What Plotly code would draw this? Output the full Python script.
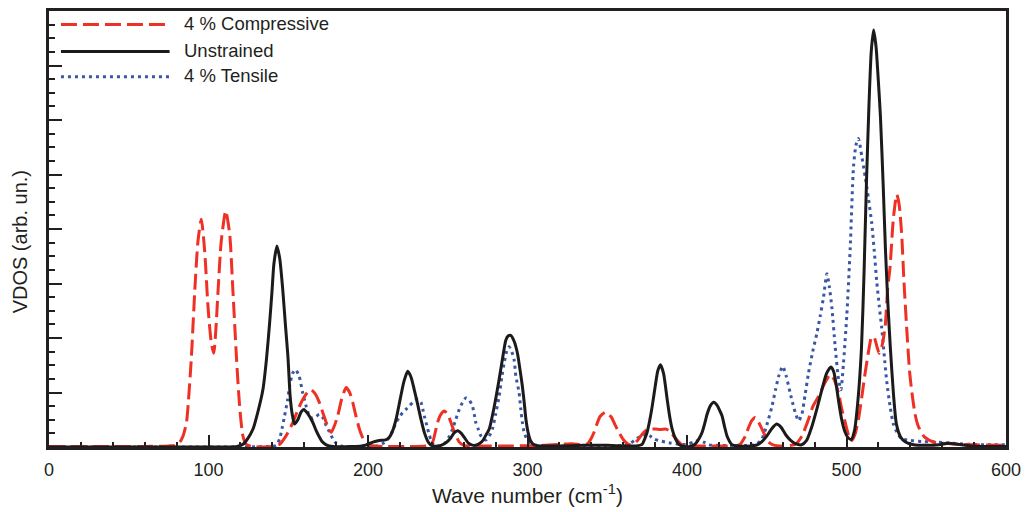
import plotly.graph_objects as go

# ---------------- data ----------------
unstrained_x = [0, 40, 80, 110, 118, 121.6, 124.5, 127.9, 131, 134.1, 136.3, 138.3, 139.8, 141, 142.9, 144.7, 146.6, 148.2, 149.8, 151.2,
                152.5, 153.9, 156, 158, 159.8, 162, 165.4, 167.5, 169.6, 171.5, 173.8, 178, 190, 196, 199, 203, 207, 211, 213.4, 215.5,
                217.6, 220, 222.5, 224.9, 227, 229, 231, 233.2, 235.5, 238, 240.4, 244, 246.5, 249, 252, 254, 256.2, 258.5, 260.5, 263,
                266, 269, 271.5, 274, 276, 279, 282.2, 284.5, 286.4, 288, 289.5, 291.5, 293.7, 295.3, 296.8, 298, 299, 300.5, 302, 304,
                308, 320, 335, 350, 362, 368, 371.9, 373.5, 375, 376.7, 378.2, 380, 381.7, 383.4, 385.3, 387.6, 389.2, 390.7, 392.8, 394.9,
                398, 402, 405, 407.5, 409.5, 411, 412.6, 414.5, 416.8, 419, 420.5, 422, 423.5, 425.1, 426.7, 428.2, 432, 440, 444, 447,
                450, 453, 456.2, 459, 462, 465, 468, 471.8, 475, 478, 480.5, 482.5, 485, 487.5, 490.3, 492, 493.5, 495, 497, 499,
                501, 503, 505, 507, 509.4, 511, 512.5, 514, 515.5, 517, 518.5, 520, 521.3, 523, 524.4, 526, 527.5, 529.5, 531.3, 534,
                537, 542, 550, 558, 564, 570, 578, 590, 600]
unstrained_y = [0, 0, 0, 0, 0.01, 0.05, 0.15, 0.33, 0.65, 1.05, 1.6, 2.27, 2.85, 3.36, 3.69, 3.45, 2.87, 2.25, 1.66, 0.93,
                0.6, 0.42, 0.5, 0.64, 0.69, 0.62, 0.45, 0.3, 0.18, 0.09, 0.04, 0.01, 0.01, 0.02, 0.04, 0.09, 0.12, 0.13, 0.18, 0.3,
                0.51, 0.85, 1.2, 1.39, 1.28, 1.05, 0.8, 0.51, 0.25, 0.08, 0.02, 0.02, 0.04, 0.08, 0.17, 0.26, 0.3, 0.25, 0.17, 0.07,
                0.03, 0.05, 0.1, 0.22, 0.33, 0.72, 1.24, 1.65, 1.96, 2.04, 2.05, 1.95, 1.72, 1.42, 1.11, 0.8, 0.51, 0.25, 0.11, 0.04,
                0.02, 0.02, 0.03, 0.03, 0.02, 0.02, 0.05, 0.15, 0.27, 0.5, 0.75, 1.1, 1.4, 1.51, 1.35, 0.87, 0.55, 0.33, 0.15, 0.05,
                0.01, 0.01, 0.05, 0.15, 0.27, 0.42, 0.6, 0.75, 0.82, 0.76, 0.67, 0.57, 0.38, 0.2, 0.1, 0.04, 0.02, 0.02, 0.04, 0.1,
                0.2, 0.33, 0.42, 0.36, 0.22, 0.12, 0.06, 0.04, 0.12, 0.35, 0.6, 0.82, 1.1, 1.35, 1.47, 1.38, 1.15, 0.85, 0.5, 0.28,
                0.17, 0.14, 0.3, 0.8, 1.82, 3.2, 4.84, 6.2, 7.25, 7.65, 7.35, 6.7, 6.05, 4.8, 3.64, 2.6, 1.82, 0.95, 0.42, 0.18,
                0.09, 0.04, 0.03, 0.04, 0.07, 0.05, 0.02, 0.01, 0.01]

compressive_x = [0, 30, 60, 75, 79, 82, 84, 86.2, 87.8, 89.3, 91.4, 93.4, 95.5, 97.6, 99.7, 101.8, 103.3, 104.7, 106, 108,
                 110.8, 113.3, 115.3, 117.5, 119.5, 121.6, 123.7, 127, 140, 144.6, 148.5, 152.9, 156, 159.1, 162, 164.4, 167, 169.6, 171.8, 173.8,
                 175.5, 176.9, 178.8, 181, 183.5, 186.3, 188.5, 190.5, 192.5, 194.6, 196.7, 198.8, 202, 210, 225, 236, 238.5, 240.5, 242, 243.6,
                 245.7, 247.8, 250, 252, 254.5, 257.2, 260, 270, 290, 310, 322, 328, 334, 337, 338.5, 340, 341.7, 343.5, 345.5, 349,
                 352.5, 355, 357.3, 359.5, 361.5, 364, 367, 369.8, 372, 374, 377, 380.3, 383.5, 386.5, 388.8, 390.7, 392.8, 394.9, 397, 400,
                 420, 430, 433.4, 435, 436.6, 438.5, 440.5, 442.8, 445, 446.5, 448, 449.5, 451.2, 454, 460, 465, 468, 472, 476.2, 479,
                 482.5, 486, 489.8, 492, 495, 497, 499.2, 501.3, 503.3, 505.5, 507.5, 509.5, 511.7, 513.8, 515.8, 517.5, 519, 520.5, 522.2, 524.2,
                 525.8, 527.3, 529.4, 531.5, 533, 534.6, 536, 537.7, 539.5, 541, 543, 545, 549, 555, 565, 580, 600]
compressive_y = [0.01, 0.01, 0.01, 0.02, 0.03, 0.09, 0.2, 0.45, 1.0, 1.66, 2.87, 3.78, 4.18, 3.6, 2.57, 1.9, 1.72, 2.2, 2.87, 3.78,
                 4.33, 3.9, 2.87, 1.66, 0.75, 0.2, 0.05, 0.01, 0.01, 0.05, 0.2, 0.45, 0.68, 0.87, 1.0, 1.05, 0.97, 0.81, 0.62, 0.45,
                 0.33, 0.27, 0.38, 0.57, 0.88, 1.09, 1.0, 0.81, 0.56, 0.33, 0.17, 0.09, 0.03, 0.01, 0.01, 0.02, 0.05, 0.09, 0.25, 0.45,
                 0.6, 0.66, 0.6, 0.45, 0.25, 0.09, 0.03, 0.02, 0.02, 0.03, 0.05, 0.06, 0.04, 0.05, 0.09, 0.16, 0.27, 0.42, 0.56, 0.64,
                 0.55, 0.4, 0.27, 0.16, 0.09, 0.04, 0.06, 0.15, 0.24, 0.3, 0.33, 0.33, 0.32, 0.33, 0.3, 0.24, 0.16, 0.09, 0.04, 0.02,
                 0.02, 0.02, 0.05, 0.12, 0.2, 0.35, 0.48, 0.54, 0.45, 0.36, 0.27, 0.17, 0.09, 0.04, 0.02, 0.03, 0.05, 0.2, 0.51, 0.75,
                 0.93, 1.15, 1.33, 1.25, 0.99, 0.7, 0.45, 0.22, 0.12, 0.25, 0.51, 0.9, 1.36, 1.75, 2.02, 2.0, 1.85, 1.72, 1.85, 2.2,
                 2.9, 3.3, 4.2, 4.63, 4.45, 3.9, 3.05, 2.2, 1.4, 1.0, 0.6, 0.38, 0.18, 0.09, 0.06, 0.04, 0.03]

tensile_x = [0, 40, 80, 120, 138, 142.5, 144.6, 146.2, 147.7, 149.5, 150.8, 152.7, 154.6, 156.8, 159.1, 161.2, 163.3, 165.5, 167.5, 169.5,
             171.5, 173.8, 175.8, 178, 180, 183, 190, 200, 206, 209, 211, 213.4, 215.5, 217.6, 219.7, 221.7, 223.8, 225.9, 228, 230.1,
             231.7, 233.2, 234.3, 235.3, 236.4, 237.4, 238.5, 239.5, 241, 243, 245, 247, 248.9, 251, 253, 255, 257.2, 259.3, 261.4, 263.5,
             265.5, 266.6, 267.6, 269.2, 270.8, 272.5, 274, 276, 278, 280, 282.2, 284, 285.4, 287, 288.5, 290, 291.6, 292.7, 294.7, 295.8,
             296.8, 297.9, 300, 303, 310, 330, 350, 360, 364, 367, 369.8, 372.5, 375, 377, 379.2, 382, 386.5, 390, 395, 400,
             404, 407.4, 410.5, 413.6, 420, 430, 440, 444, 447, 450, 453.3, 455.5, 457.5, 460, 462.2, 464.7, 466.3, 467.9, 470, 472,
             474, 476.2, 478.8, 481.4, 483.5, 485.6, 487.7, 489.2, 490.8, 492.9, 495, 496.5, 498, 500.2, 502.3, 504.4, 506, 507.5, 509.5, 511.7,
             513.8, 515.8, 517.4, 519, 520.5, 522.1, 523.6, 525.2, 527.3, 529.4, 532, 534.6, 540, 548, 556, 566, 576, 590, 600]
tensile_y = [0, 0, 0, 0, 0.01, 0.03, 0.15, 0.35, 0.57, 0.85, 1.11, 1.35, 1.42, 1.3, 0.99, 0.75, 0.57, 0.52, 0.56, 0.6,
             0.55, 0.39, 0.28, 0.15, 0.07, 0.02, 0.01, 0.01, 0.02, 0.06, 0.1, 0.18, 0.3, 0.45, 0.55, 0.63, 0.69, 0.75, 0.82, 0.87,
             0.87, 0.82, 0.7, 0.57, 0.45, 0.33, 0.22, 0.12, 0.05, 0.02, 0.02, 0.05, 0.09, 0.2, 0.33, 0.5, 0.69, 0.82, 0.9, 0.86,
             0.75, 0.6, 0.45, 0.32, 0.2, 0.14, 0.13, 0.2, 0.33, 0.6, 0.93, 1.3, 1.55, 1.76, 1.84, 1.76, 1.6, 1.3, 1.0, 0.69,
             0.45, 0.27, 0.12, 0.05, 0.02, 0.02, 0.02, 0.03, 0.06, 0.12, 0.18, 0.22, 0.24, 0.2, 0.15, 0.12, 0.09, 0.07, 0.05, 0.05,
             0.09, 0.12, 0.09, 0.04, 0.03, 0.03, 0.03, 0.06, 0.15, 0.4, 0.75, 1.05, 1.3, 1.48, 1.3, 0.99, 0.8, 0.63, 0.48, 0.6,
             0.95, 1.36, 1.75, 2.08, 2.4, 2.75, 3.18, 2.95, 2.57, 1.84, 1.24, 1.05, 1.5, 2.42, 3.63, 5.15, 5.55, 5.66, 5.35, 4.96,
             4.55, 4.11, 3.6, 3.02, 2.6, 2.18, 1.7, 1.21, 0.75, 0.42, 0.25, 0.15, 0.12, 0.1, 0.09, 0.07, 0.05, 0.04, 0.04]

series_names = ["4 % Compressive", "Unstrained", "4 % Tensile"]
x_tick_values = [0, 100, 200, 300, 400, 500, 600]

# ---------------- styling ----------------
RED = "#ee3124"
BLACK = "#1c1a1b"
BLUE = "#3a56a5"
TEXT = "#231f20"
FONT = "Liberation Sans, Arial, Helvetica, sans-serif"

styles = [
    dict(color=RED, width=3, dash="16px,6px"),
    dict(color=BLACK, width=3, dash="solid"),
    dict(color=BLUE, width=3, dash="3px,4px"),
]

fig = go.Figure()
data = [(compressive_x, compressive_y), (unstrained_x, unstrained_y), (tensile_x, tensile_y)]
for idx in [2, 0, 1]:
    xs, ys = data[idx]
    fig.add_trace(go.Scatter(
        x=xs, y=ys, mode="lines", name=series_names[idx],
        line=dict(shape="spline", smoothing=0.6, **styles[idx]),
        showlegend=False, hoverinfo="x+y+name",
    ))

# manual legend (long line samples like the reference)
legend_y = [0.969, 0.907, 0.849]
for i, name in enumerate(series_names):
    fig.add_shape(type="line", xref="paper", yref="paper",
                  x0=0.0125, x1=0.126, y0=legend_y[i], y1=legend_y[i],
                  line=styles[i])
    fig.add_annotation(xref="paper", yref="paper", x=0.139, y=legend_y[i] + 0.002,
                       xanchor="left", yanchor="middle", showarrow=False,
                       text=name, font=dict(family=FONT, size=18.5, color=TEXT))

# y axis title as rotated text
fig.add_annotation(xref="paper", yref="paper", x=-0.03, y=0.47, xanchor="center", yanchor="middle",
                   textangle=-90, showarrow=False, text="VDOS (arb. un.)",
                   font=dict(family=FONT, size=20, color=TEXT))

fig.update_layout(
    width=1029, height=512,
    margin=dict(l=49, r=20, t=8, b=63),
    paper_bgcolor="white", plot_bgcolor="white",
    font=dict(family=FONT, color=TEXT),
)
fig.update_xaxes(
    range=[0, 600], tickvals=x_tick_values, ticks="inside", ticklen=12, tickwidth=2, tickcolor=TEXT,
    minor=dict(dtick=20, ticks="inside", ticklen=5, tickwidth=1.5, tickcolor=TEXT),
    showline=True, linecolor=TEXT, linewidth=2.5, mirror=True, showgrid=False, zeroline=False,
    tickfont=dict(family=FONT, size=18, color=TEXT), ticklabelstandoff=5,
    title=dict(text="Wave number (cm<sup>-1</sup>)", font=dict(family=FONT, size=21, color=TEXT), standoff=9),
)
fig.update_yaxes(
    range=[0, 8], dtick=1, ticks="inside", ticklen=13, tickwidth=2, tickcolor=TEXT, showticklabels=False,
    minor=dict(dtick=0.25, ticks="inside", ticklen=6, tickwidth=1.5, tickcolor=TEXT),
    showline=True, linecolor=TEXT, linewidth=2.5, mirror=True, showgrid=False, zeroline=False,
)

fig.write_html("out.html")
